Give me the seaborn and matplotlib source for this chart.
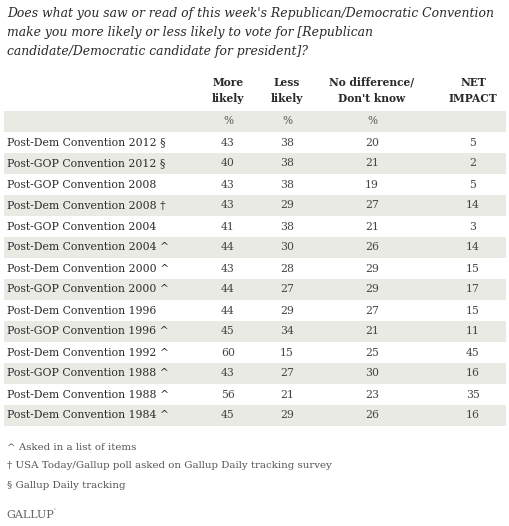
import numpy as np
import pandas as pd
import matplotlib.pyplot as plt
import seaborn as sns
from matplotlib.colors import ListedColormap

title_lines = ["Does what you saw or read of this week's Republican/Democratic Convention",
               "make you more likely or less likely to vote for [Republican",
               "candidate/Democratic candidate for president]?"]
headers = [["More", "likely"], ["Less", "likely"], ["No difference/", "Don't know"], ["NET", "IMPACT"]]
units = ["%", "%", "%", ""]
labels = ["Post-Dem Convention 2012 §", "Post-GOP Convention 2012 §", "Post-GOP Convention 2008",
          "Post-Dem Convention 2008 †", "Post-GOP Convention 2004", "Post-Dem Convention 2004 ^",
          "Post-Dem Convention 2000 ^", "Post-GOP Convention 2000 ^", "Post-Dem Convention 1996",
          "Post-GOP Convention 1996 ^", "Post-Dem Convention 1992 ^", "Post-GOP Convention 1988 ^",
          "Post-Dem Convention 1988 ^", "Post-Dem Convention 1984 ^"]
more_likely = [43, 40, 43, 43, 41, 44, 43, 44, 44, 45, 60, 43, 56, 45]
less_likely = [38, 38, 38, 29, 38, 30, 28, 27, 29, 34, 15, 27, 21, 29]
no_difference = [20, 21, 19, 27, 21, 26, 29, 29, 27, 21, 25, 30, 23, 26]
net_impact = [5, 2, 5, 14, 3, 14, 15, 17, 15, 11, 45, 16, 35, 16]
footnotes = ["^ Asked in a list of items",
             "† USA Today/Gallup poll asked on Gallup Daily tracking survey",
             "§ Gallup Daily tracking"]

df = pd.DataFrame({"label": labels, "more": more_likely, "less": less_likely,
                   "nodiff": no_difference, "net": net_impact})

sns.set_theme(style="white")
plt.rcParams['font.family'] = ['DejaVu Serif', 'DejaVu Sans']

W, H = 510, 526
fig = plt.figure(figsize=(W / 100, H / 100), dpi=100)

band = "#eaeae5"
top, pitch = 111, 21
n_rows = len(df) + 1
x0, x1 = 4, 506

# striped rows drawn as a one-column heatmap
band_ax = fig.add_axes([x0 / W, 1 - (top + n_rows * pitch) / H, (x1 - x0) / W, n_rows * pitch / H])
stripes = pd.DataFrame({"s": [i % 2 for i in range(n_rows)]})
sns.heatmap(stripes, ax=band_ax, cmap=ListedColormap([band, "white"]), cbar=False,
            xticklabels=False, yticklabels=False)
band_ax.axis("off")

# overlay axes in pixel units for all the text
ax = fig.add_axes([0, 0, 1, 1])
ax.set_xlim(0, W)
ax.set_ylim(H, 0)
ax.axis("off")

tcol = "#2a2a2a"
ncol = "#444444"

for k, line in enumerate(title_lines):
    ax.text(7, 13 + k * 19.5, line, fontsize=8.9, style="italic", color=tcol, va="center", ha="left")

col_x = [228, 287, 372, 473]
for cx, (h1, h2), u in zip(col_x, headers, units):
    ax.text(cx, 82, h1, fontsize=7.7, fontweight="bold", color=tcol, ha="center", va="center")
    ax.text(cx, 99, h2, fontsize=7.7, fontweight="bold", color=tcol, ha="center", va="center")
    ax.text(cx, top + pitch / 2, u, fontsize=7.6, color="#555555", ha="center", va="center")

for i, row in df.iterrows():
    y = top + pitch * (i + 1) + pitch / 2
    ax.text(7, y, row["label"], fontsize=7.8, color=tcol, ha="left", va="center")
    for cx, key in zip(col_x, ["more", "less", "nodiff", "net"]):
        ax.text(cx, y, str(row[key]), fontsize=7.8, color=ncol, ha="center", va="center")

for k, note in enumerate(footnotes):
    ax.text(7, 447 + k * 19, note, fontsize=7.4, color="#555555", ha="left", va="center")

ax.text(6, 515, "GALLUP", fontsize=8.0, color="#666666", ha="left", va="center")
ax.text(53, 511, "'", fontsize=5, color="#666666", ha="left", va="center")

fig.savefig("out.png", dpi=100)
